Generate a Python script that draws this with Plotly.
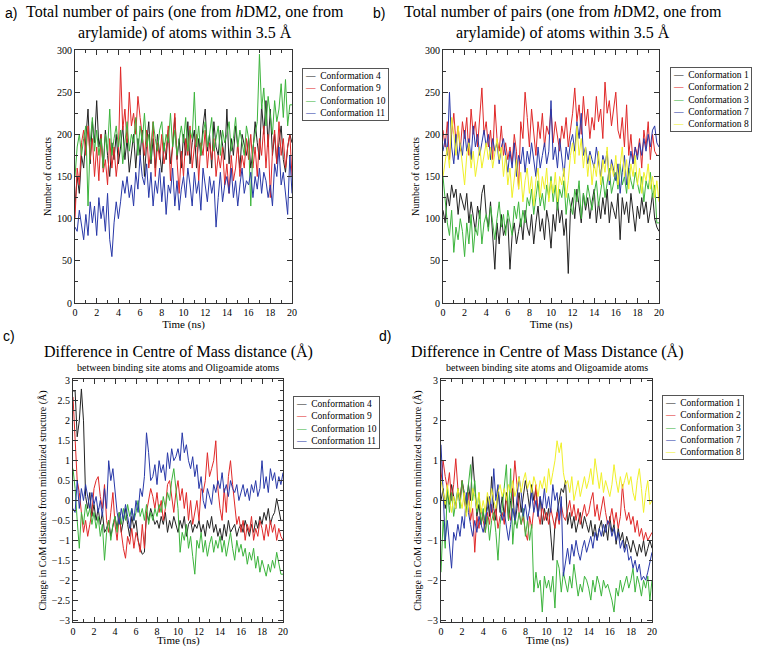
import plotly.graph_objects as go

# ---- data (one value every 0.2 ns from 0 to 20 ns) ----

# a) contacts, conformations 4, 9, 10, 11
contacts_a_conf4 = [
    115, 150, 130, 175, 160, 200, 230, 165, 215, 190,
    240, 185, 200, 160, 205, 175, 150, 190, 170, 200,
    165, 185, 210, 170, 195, 155, 180, 200, 160, 195,
    175, 205, 150, 190, 215, 165, 195, 160, 200, 180,
    155, 190, 170, 205, 165, 185, 220, 170, 195, 160,
    200, 175, 215, 165, 190, 205, 160, 195, 175, 210,
    230, 180, 200, 160, 215, 185, 175, 205, 190, 170,
    230, 165, 195, 175, 210, 180, 160, 200, 185, 175,
    195, 160, 180, 215, 190, 170, 235, 200, 240, 185,
    230, 175, 200, 165, 190, 210, 170, 155, 185, 200,
    190]
contacts_a_conf9 = [
    100, 160, 140, 190, 205, 175, 210, 170, 195, 150,
    185, 145, 200, 155, 170, 140, 195, 160, 185, 150,
    175, 280, 205, 230, 190, 250, 210, 225, 200, 245,
    220, 195, 175, 205, 160, 185, 215, 150, 190, 170,
    200, 165, 180, 210, 145, 190, 225, 170, 130, 180,
    150, 195, 175, 210, 160, 185, 200, 145, 190, 175,
    205, 160, 190, 170, 195, 150, 175, 160, 185, 140,
    165, 130, 175, 145, 160, 190, 150, 175, 160, 195,
    170, 200, 160, 185, 150, 195, 175, 210, 160, 200,
    125, 180, 205, 165, 215, 175, 195, 160, 185, 200,
    150]
contacts_a_conf10 = [
    150, 185, 200, 175, 195, 210, 115, 190, 220, 180,
    205, 175, 195, 160, 200, 180, 230, 175, 195, 210,
    185, 205, 165, 195, 215, 180, 200, 190, 220, 175,
    210, 190, 225, 185, 200, 170, 215, 195, 180, 205,
    215, 180, 200, 190, 225, 185, 205, 175, 195, 210,
    190, 220, 180, 205, 195, 250, 185, 210, 175, 200,
    215, 185, 200, 220, 180, 195, 210, 175, 205, 190,
    200, 215, 180, 195, 220, 185, 205, 190, 175, 210,
    195, 115, 185, 200, 215, 295, 230, 255, 210, 245,
    225, 200, 240, 215, 230, 260, 220, 265, 210, 235,
    235]
contacts_a_conf11 = [
    90, 85, 110, 95, 75, 105, 80, 120, 95, 115,
    80, 125, 100, 115, 85, 130, 75, 55, 95, 120,
    100, 120, 145, 130, 150, 125, 140, 115, 155, 135,
    175, 150, 140, 165, 125, 155, 115, 145, 130, 160,
    120, 150, 105, 140, 130, 160, 115, 145, 110, 135,
    150, 125, 160, 140, 115, 155, 130, 145, 110, 160,
    140, 120, 150, 130, 145, 90, 125, 155, 120, 140,
    150, 130, 160, 125, 145, 115, 140, 160, 130, 145,
    140, 155, 125, 150, 135, 160, 130, 155, 145, 125,
    140, 115, 165, 150, 185, 140, 155, 125, 105, 175,
    130]

# b) contacts, conformations 1, 2, 3, 7, 8
contacts_b_conf1 = [
    110, 95, 130, 115, 140, 125, 135, 105, 130, 120,
    110, 130, 95, 120, 105, 85, 115, 100, 130, 140,
    105, 90, 120, 75, 40, 95, 70, 105, 80, 90,
    100, 40, 80, 95, 70, 85, 100, 75, 110, 90,
    80, 105, 70, 95, 115, 85, 100, 75, 110, 95,
    65, 105, 85, 120, 95, 110, 80, 100, 35, 110,
    125, 100, 135, 115, 95, 130, 110, 125, 100, 120,
    135, 95, 120, 100, 125, 105, 135, 95, 120, 110,
    100, 130, 75, 125, 105, 120, 95, 130, 110, 85,
    115, 100, 125, 105, 120, 95, 110, 130, 100, 90,
    85]
contacts_b_conf2 = [
    205, 185, 215, 170, 200, 225, 190, 210, 180, 215,
    195, 220, 175, 230, 200, 215, 185, 225, 255, 200,
    215, 185, 205, 170, 235, 195, 180, 210, 175, 190,
    170, 185, 165, 200, 180, 135, 215, 195, 250, 220,
    185, 230, 205, 175, 215, 195, 225, 185, 210, 200,
    230, 190, 215, 200, 180, 210, 195, 220, 185, 205,
    225, 255, 215, 235, 200, 245, 210, 230, 195, 220,
    205, 245, 215, 230, 195, 262, 225, 240, 210, 230,
    250, 205, 195, 220, 185, 235, 175, 200, 165, 185,
    175, 195, 160, 205, 185, 215, 170, 200, 180, 175,
    175]
contacts_b_conf3 = [
    150, 120, 95, 80, 110, 60, 90, 75, 100, 85,
    55, 95, 70, 105, 60, 90, 80, 110, 70, 95,
    105, 85, 115, 95, 75, 100, 120, 90, 105, 80,
    110, 95, 80, 115, 100, 120, 90, 110, 95, 125,
    115, 135, 105, 125, 145, 115, 130, 110, 140, 125,
    150, 120, 140, 110, 135, 125, 145, 105, 130, 115,
    105, 135, 120, 145, 100, 130, 115, 140, 125, 110,
    130, 145, 115, 135, 150, 125, 140, 160, 130, 145,
    155, 135, 165, 140, 150, 130, 160, 145, 135, 155,
    140, 130, 150, 120, 145, 135, 155, 125, 140, 95,
    95]
contacts_b_conf7 = [
    180, 195, 175, 250, 185, 165, 200, 170, 190, 175,
    205, 180, 195, 170, 210, 185, 200, 175, 190, 205,
    185, 200, 170, 195, 180, 190, 165, 185, 195, 175,
    155, 180, 160, 190, 150, 175, 165, 185, 155, 180,
    165, 190, 170, 150, 185, 160, 175, 190, 165, 180,
    240, 170, 185, 160, 195, 175, 150, 185, 170, 190,
    200, 180, 215, 195, 225, 175, 185, 165, 180, 170,
    160, 185, 170, 150, 175, 165, 180, 140, 170, 155,
    145, 165, 130, 155, 175, 140, 160, 180, 165, 185,
    170, 190, 175, 195, 180, 200, 185, 205, 210, 190,
    185]
contacts_b_conf8 = [
    150, 170, 185, 160, 220, 200, 175, 210, 185, 165,
    140, 175, 190, 160, 180, 150, 170, 185, 160, 175,
    190, 170, 185, 160, 180, 195, 170, 185, 150, 175,
    140, 160, 125, 150, 170, 135, 155, 120, 145, 160,
    130, 150, 115, 145, 160, 125, 150, 135, 160, 120,
    145, 130, 155, 120, 150, 140, 160, 125, 145, 175,
    190, 165, 210, 175, 195, 160, 185, 150, 175, 140,
    165, 150, 180, 140, 170, 155, 185, 145, 165, 150,
    175, 140, 160, 185, 150, 170, 135, 165, 150, 175,
    140, 160, 130, 155, 145, 165, 135, 150, 125, 145,
    120]

# c) CoM distance change, conformations 4, 9, 10, 11
com_c_conf4 = [
    2.75, 2.75, 1.6, 2.0, 2.8, 2.0, 0.1, -0.2, 0.2, -0.4,
    -0.1, -0.5, -0.2, -0.6, -0.3, -0.8, -0.7, -0.5, -0.9, -0.6,
    -0.4, -0.7, -0.3, -0.8, -0.5, -0.2, -0.6, -0.9, -0.4, -0.7,
    -0.5, -1.0, -1.2, -1.35, -1.3, -0.3, -0.5, -0.2, -0.4, -0.6,
    -0.5, -0.7, -0.4, -0.6, -0.3, -0.8, -0.5, -0.7, -0.4, -0.6,
    -0.8, -0.5, -0.7, -0.4, -0.9, -0.6, -0.5, -0.8, -0.6, -0.7,
    -0.5, -0.8, -0.6, -0.9, -0.5, -0.7, -0.4, -0.8, -0.6, -0.9,
    -0.7, -1.0, -0.6, -0.9, -0.5, -0.8, -0.7, -0.6, -0.9, -0.7,
    -0.6, -0.8, -0.5, -0.7, -0.9, -0.6, -0.8, -0.5, -0.7, -0.4,
    -0.6, -0.3, -0.5, -0.2, -0.6, -0.4, -0.3, 0.05, -0.2, -0.5,
    -0.5]
com_c_conf9 = [
    2.6, 1.5, 0.5, 0.2, -0.4, -0.8, -0.5, -0.9, -0.6, -0.3,
    0.3, 0.5, 0.6, 0.1, -0.2, 0.4, -0.5, -0.8, -0.3, 0.2,
    -0.6, -1.0, -0.4, -0.8, -1.2, -1.45, -0.9, -1.1, -0.7, -1.2,
    -0.8, -1.0, -1.3, -0.6, -1.2, -0.3, 0.0, 0.3, 0.1, -0.2,
    0.2, -0.3, 0.0, -0.5, -0.2, 0.4, 0.5, 0.1, -0.3, 0.2,
    0.5, 0.0, 0.3, -0.2, 0.2, -0.5, 0.0, -0.6, -0.3, 0.0,
    -0.5, 0.3, 0.2, 0.5, 1.2, 0.6, 0.8, 1.0, 1.5, 0.3,
    -0.2, -0.5, 0.3, -0.3, 0.6, 1.0, 0.4, -0.2, -0.6, -0.4,
    -0.8, -0.5, -1.0, -0.6, -0.8, -0.4, -1.0, -0.7, -0.9, -0.5,
    -0.7, -1.0, -0.6, -0.9, -0.5, -0.8, -0.6, -1.0, -0.7, -0.9,
    -1.0]
com_c_conf10 = [
    0.8, 0.3, -0.5, -1.2, -0.3, -0.6, -0.1, -0.4, -0.2, -0.6,
    -0.3, -0.7, -0.4, -0.9, -0.6, -1.5, -0.8, -0.5, -1.0, -0.6,
    -0.4, -0.8, -0.3, -0.6, -0.2, -0.5, -0.1, -0.4, -0.2, -0.5,
    -0.3, 0.0, -0.4, -0.2, -0.5, -0.1, -0.6, -0.3, -0.5, -0.2,
    -0.4, -0.1, -0.3, 0.1, -0.2, 0.2, 0.0, 0.5, 0.8, 0.3,
    -0.2, -1.3, -0.8, -1.0, -0.6, -1.2, -0.9, -1.4, -1.85, -1.0,
    -1.2, -0.8, -1.3, -1.0, -1.4, -1.1, -0.9, -1.3, -1.0, -1.2,
    -0.9, -1.3, -1.0, -1.4, -1.1, -0.8, -1.2, -1.5, -1.0, -1.3,
    -1.1, -1.4, -1.2, -1.6, -1.3, -1.5, -1.2, -1.7, -1.4, -1.8,
    -1.5, -1.7, -1.9, -1.6, -1.8, -1.5, -1.7, -1.3, -1.6, -1.85,
    -1.85]
com_c_conf11 = [
    -0.2, -0.3, 0.5, -0.2, 0.3, 0.0, 0.4, 0.1, -0.2, 0.2,
    -0.1, 0.1, -0.3, 0.0, -0.4, 0.3, -0.2, 1.0, 0.5, 0.8,
    0.2, -0.3, -0.6, -0.2, -0.5, -0.1, -0.4, -0.7, -0.2, -0.5,
    0.0, -0.3, 0.3, 0.1, 0.6, 1.7, 1.2, 0.5, 0.6, 0.9,
    0.4, 1.0, 0.7, 0.9, 0.5, 1.2, 0.8, 1.3, 1.0, 1.1,
    1.3, 1.0, 1.7, 1.2, 1.4, 1.0, 0.8, 1.1, 0.6, 0.9,
    0.3, 0.6, 0.0, -0.2, 0.3, 0.1, -0.1, 0.4, 0.2, 0.5,
    0.3, 0.7, 0.2, 0.4, 0.1, 0.5, 0.3, 0.2, 0.4, 0.0,
    0.2, 0.4, 0.1, 0.3, 0.0, 0.4, 0.2, 0.5, 0.1, 0.3,
    1.0, 0.3, 0.6, 0.2, 0.8, 0.5, 0.7, 0.3, 0.6, 0.4,
    0.7]

# d) CoM distance change, conformations 1, 2, 3, 7, 8
com_d_conf1 = [
    0.0, 0.3, -0.2, 0.2, -0.1, 0.4, 0.1, -0.2, 0.3, 0.0,
    0.5, 0.2, -0.1, 0.4, 0.0, 1.1, 0.2, -0.4, -0.1, -0.6,
    -0.3, -0.6, 0.1, -0.4, 0.6, -0.2, -0.5, 0.3, -0.3, 0.1,
    -0.4, 0.2, -0.5, 0.0, 0.3, -0.6, -0.2, 0.2, -0.3, 0.1,
    0.5, 0.2, -0.2, 0.4, 0.0, 0.3, -0.4, 0.1, -0.6, -0.2,
    -0.5, -0.2, -0.8, -1.5, -0.6, -0.3, 0.0, 0.3, 0.2, 0.5,
    -0.6, -0.3, -0.7, -0.4, -0.8, -0.5, -0.3, -0.7, -0.4, -0.6,
    -0.8, -0.5, -0.9, -0.6, -1.0, -0.7, -0.5, -0.9, -0.6, -1.0,
    -0.4, -0.8, -0.6, -1.1, -0.7, -1.0, -0.8, -1.2, -0.9, -1.1,
    -1.3, -1.0, -1.2, -1.4, -1.1, -1.3, -1.0, -1.4, -1.2, -1.0,
    -1.2]
com_d_conf2 = [
    0.5, 1.0, 0.6, 0.3, 0.7, 0.0, 0.4, 1.05, 0.3, 0.0,
    0.5, 0.0, -0.3, 0.2, -0.5, -0.2, -1.3, -0.4, -0.7, -0.2,
    -0.5, -0.8, -0.3, -0.6, -0.1, -0.5, -0.2, -0.7, -0.4, -0.3,
    -0.6, 0.1, -0.3, -0.5, 0.2, 1.0, 0.4, -0.3, -0.6, -0.4,
    -0.8, -1.0, -0.4, -0.7, -0.2, 0.4, -0.3, -0.6, -0.1, -0.5,
    -0.3, -0.6, -0.2, -0.5, -0.7, -0.3, -0.6, -0.1, -0.4, -0.5,
    -0.2, 0.0, -0.4, -0.1, -0.5, -0.2, -0.6, -0.3, -0.1, -0.4,
    -0.3, 0.0, 0.2, -0.4, -0.1, -0.5, -0.2, 0.1, -0.3, -0.6,
    -0.5, -0.2, -0.6, -0.3, -0.7, -0.4, 0.4, -0.2, -0.5, -0.3,
    -0.6, -0.4, -0.8, -0.5, -0.9, -0.7, -1.0, -0.8, -1.0, -0.9,
    -0.8]
com_d_conf3 = [
    -1.8, -0.5, -1.2, 0.3, -0.3, 0.2, -0.4, 0.0, 0.3, -0.2,
    0.5, 0.1, -0.3, 0.4, 0.9, 0.0, 0.5, -0.3, 0.2, -0.6,
    -0.2, -0.8, -0.4, -1.0, -0.5, -0.3, -0.8, -1.5, -0.6, -0.2,
    0.4, 0.9, -0.5, 0.8, -1.1, -0.4, -0.7, -0.3, -0.6, -0.2,
    -0.9, -0.5, -1.0, -0.6, -2.3, -1.8, -2.2, -2.0, -2.8, -1.9,
    -2.2, -2.0, -2.3, -1.9, -2.7, -1.5, -1.7, -2.3, -1.8, -2.1,
    -2.3, -1.9, -2.2, -1.6, -2.0, -2.4, -2.1, -2.3, -1.9, -2.0,
    -2.2, -2.5, -2.0, -2.3, -1.9, -2.1, -2.4, -2.0, -2.2, -2.1,
    -2.3, -2.5, -2.8, -2.2, -2.4, -2.0, -2.3, -2.1, -1.9, -2.2,
    -2.0, -1.7, -2.3, -1.9, -2.1, -2.4, -2.0, -2.2, -1.9, -2.5,
    -2.0]
com_d_conf7 = [
    1.4, 0.2, -1.0, -0.5, -1.2, -1.7, -0.8, -1.0, -0.6, -0.9,
    -0.4, -0.7, 0.2, -0.3, -0.6, -0.9, -0.5, -0.8, -0.4, -0.6,
    -0.8, -0.5, -0.2, 0.1, -0.3, 0.8, 0.0, 0.4, -0.2, -0.5,
    -0.3, -0.7, -1.0, -0.6, -0.2, -0.5, 0.0, 0.6, 0.2, -0.4,
    -0.1, -0.5, -0.2, 0.2, -0.3, 0.0, -0.4, 0.1, -0.2, 0.3,
    -0.2, 0.1, -0.3, 0.4, 0.0, 0.2, -0.5, 0.1, -1.9, -1.5,
    -1.2, -1.6, -1.1, -1.4, -1.0, -1.3, -1.5, -1.2, -1.0, -1.3,
    -1.1, -0.9, -1.2, -0.8, -1.0, -0.7, -0.9, -0.6, -0.8, -0.5,
    -0.6, -0.9, -0.7, -1.0, -0.8, -1.2, -1.0, -1.3, -1.1, -1.5,
    -1.4, -1.7, -1.5, -1.8, -1.6, -2.0, -1.9, -2.0, -1.8, -1.5,
    -1.3]
com_d_conf8 = [
    0.5, 0.2, -0.1, 0.4, 0.0, -0.3, 0.1, -0.2, 0.3, 0.0,
    -0.2, 0.2, -0.4, 0.0, -0.3, 0.3, 0.1, -0.2, 0.2, -0.3,
    0.0, -0.3, 0.2, -0.1, 0.3, 0.0, -0.2, 0.2, 0.4, 0.1,
    0.3, 0.0, 0.4, 0.2, 0.5, 0.1, 0.3, 0.6, 0.2, 0.5,
    0.7, 0.3, 0.5, 0.2, 0.6, 0.4, 0.1, 0.5, 0.3, 0.6,
    0.2, 0.8, 0.4, 0.7, 1.0, 1.5, 1.2, 1.45, 0.7, 0.4,
    0.5, 0.2, 0.6, 0.0, 0.3, 0.5, 0.1, 0.4, 0.6, 0.3,
    0.5, 0.8, 0.4, 1.05, 0.6, 0.3, 0.7, 0.2, 0.5, 0.3,
    0.1, 0.4, 0.9, 0.5, 0.2, 0.6, 0.3, 0.5, 0.7, 0.4,
    0.6, 0.2, 0.0, 0.5, 0.8, 0.3, -0.3, 0.2, 0.5, -0.1,
    0.0]

COLORS = {1: "#222222", 2: "#e02828", 3: "#3cb43c", 4: "#222222", 7: "#2838a8",
          8: "#f0f028", 9: "#e02828", 10: "#3cb43c", 11: "#2838a8"}

SERIF = "Liberation Serif, Times New Roman, DejaVu Serif, serif"
SANS = "Liberation Sans, Arial, sans-serif"
W, H = 760, 649


def time_axis(values):
    # samples are evenly spaced over the 20 ns run
    n = len(values)
    return [20.0 * i / (n - 1) for i in range(n)]


def px_x(p):
    return p / W


def px_y(p):
    return 1 - p / H


fig = go.Figure()

panels = [
    ("x", "y", (302, 68), [(4, contacts_a_conf4), (9, contacts_a_conf9),
                           (10, contacts_a_conf10), (11, contacts_a_conf11)]),
    ("x2", "y2", (670, 67), [(1, contacts_b_conf1), (2, contacts_b_conf2),
                             (3, contacts_b_conf3), (7, contacts_b_conf7),
                             (8, contacts_b_conf8)]),
    ("x3", "y3", (293, 396), [(4, com_c_conf4), (9, com_c_conf9),
                              (10, com_c_conf10), (11, com_c_conf11)]),
    ("x4", "y4", (662, 395), [(1, com_d_conf1), (2, com_d_conf2),
                              (3, com_d_conf3), (7, com_d_conf7),
                              (8, com_d_conf8)]),
]

for xa, ya, (lx, ly), series in panels:
    for conf, vals in series:
        fig.add_trace(go.Scatter(
            x=time_axis(vals), y=vals, mode="lines",
            name=f"Conformation {conf}",
            line=dict(color=COLORS[conf], width=1),
            xaxis=xa, yaxis=ya, showlegend=False,
        ))
    # compact grace-style legend box
    rows = [f'<span style="color:{COLORS[c]}">—</span>  Conformation {c}' for c, _ in series]
    fig.add_annotation(
        text="<br>".join(rows), xref="paper", yref="paper",
        x=px_x(lx), y=px_y(ly), xanchor="left", yanchor="top", align="left",
        showarrow=False, bordercolor="#555555", borderwidth=1, borderpad=2,
        bgcolor="white", font=dict(family=SERIF, size=9.5, color="black"),
    )

axis_common = dict(
    showline=True, linecolor="#333333", linewidth=1, mirror="allticks",
    ticks="inside", ticklen=5, tickcolor="#333333", showgrid=False,
    zeroline=False, automargin=False,
    tickfont=dict(family=SERIF, size=10, color="black"),
)


def xaxis(domain, anchor, title="Time (ns)"):
    return dict(axis_common, domain=domain, anchor=anchor, range=[0, 20],
                dtick=2, tick0=0,
                minor=dict(dtick=1, ticklen=3, ticks="inside", tickcolor="#333333"),
                title=dict(text=title, font=dict(family=SERIF, size=11, color="black"),
                           standoff=0))


def yaxis(domain, anchor, rng, dtick, minor, title):
    return dict(axis_common, domain=domain, anchor=anchor, range=rng,
                dtick=dtick, tick0=0,
                minor=dict(dtick=minor, ticklen=3, ticks="inside", tickcolor="#333333"),
                title=dict(text=title, font=dict(family=SERIF, size=10, color="black"),
                           standoff=3))


dom_top = [px_y(303), px_y(50)]
dom_bot = [px_y(622), px_y(379)]
com_title = "Change in CoM distance from minimized structure (Å)"

fig.update_layout(
    width=W, height=H, margin=dict(l=0, r=0, t=0, b=0),
    paper_bgcolor="white", plot_bgcolor="white",
    font=dict(family=SERIF, color="black"),
    xaxis=xaxis([px_x(75), px_x(292)], "y"),
    yaxis=yaxis(dom_top, "x", [0, 300], 50, 25, "Number of contacts"),
    xaxis2=xaxis([px_x(443), px_x(659)], "y2"),
    yaxis2=yaxis(dom_top, "x2", [0, 300], 50, 25, "Number of contacts"),
    # bottom row: "Time (ns)" is written as a note pinned to the page bottom
    xaxis3=xaxis([px_x(73), px_x(283)], "y3", title=""),
    yaxis3=yaxis(dom_bot, "x3", [-3.05, 3.05], 0.5, 0.25, com_title),
    xaxis4=xaxis([px_x(441), px_x(652)], "y4", title=""),
    yaxis4=yaxis(dom_bot, "x4", [-3.05, 3.05], 1, 0.5, com_title),
    showlegend=False,
)

title_top = "Total number of pairs (one from <i>h</i>DM2, one from<br>arylamide) of atoms within 3.5 Å"
notes = [
    dict(text="a)", x=px_x(3), y=px_y(3), font=dict(family=SANS, size=14), xanchor="left"),
    dict(text="b)", x=px_x(371), y=px_y(3), font=dict(family=SANS, size=14), xanchor="left"),
    dict(text="c)", x=px_x(1), y=px_y(326), font=dict(family=SANS, size=14), xanchor="left"),
    dict(text="d)", x=px_x(377), y=px_y(326), font=dict(family=SANS, size=14), xanchor="left"),
    dict(text=title_top, x=px_x(185), y=px_y(1), font=dict(family=SERIF, size=16)),
    dict(text=title_top, x=px_x(563), y=px_y(1), font=dict(family=SERIF, size=16)),
    dict(text="Difference in Centre of Mass distance (Å)", x=px_x(178), y=px_y(341),
         font=dict(family=SERIF, size=16)),
    dict(text="between binding site atoms and Oligoamide atoms", x=px_x(178), y=px_y(360),
         font=dict(family=SERIF, size=10)),
    dict(text="Difference in Centre of Mass Distance (Å)", x=px_x(547), y=px_y(341),
         font=dict(family=SERIF, size=16)),
    dict(text="between binding site atoms and Oligoamide atoms", x=px_x(547), y=px_y(360),
         font=dict(family=SERIF, size=10)),
    dict(text="Time (ns)", x=px_x(178), y=px_y(649), yanchor="bottom",
         font=dict(family=SERIF, size=11)),
    dict(text="Time (ns)", x=px_x(547), y=px_y(649), yanchor="bottom",
         font=dict(family=SERIF, size=11)),
]
for n in notes:
    n.setdefault("xanchor", "center")
    n.setdefault("yanchor", "top")
    n["font"]["color"] = "black"
    fig.add_annotation(xref="paper", yref="paper", showarrow=False, **n)

# drop the default page margin so the figure sits at the window's top-left corner
fig.write_html("out.html", config={"displayModeBar": False},
               post_script="document.body.style.margin='0';")
